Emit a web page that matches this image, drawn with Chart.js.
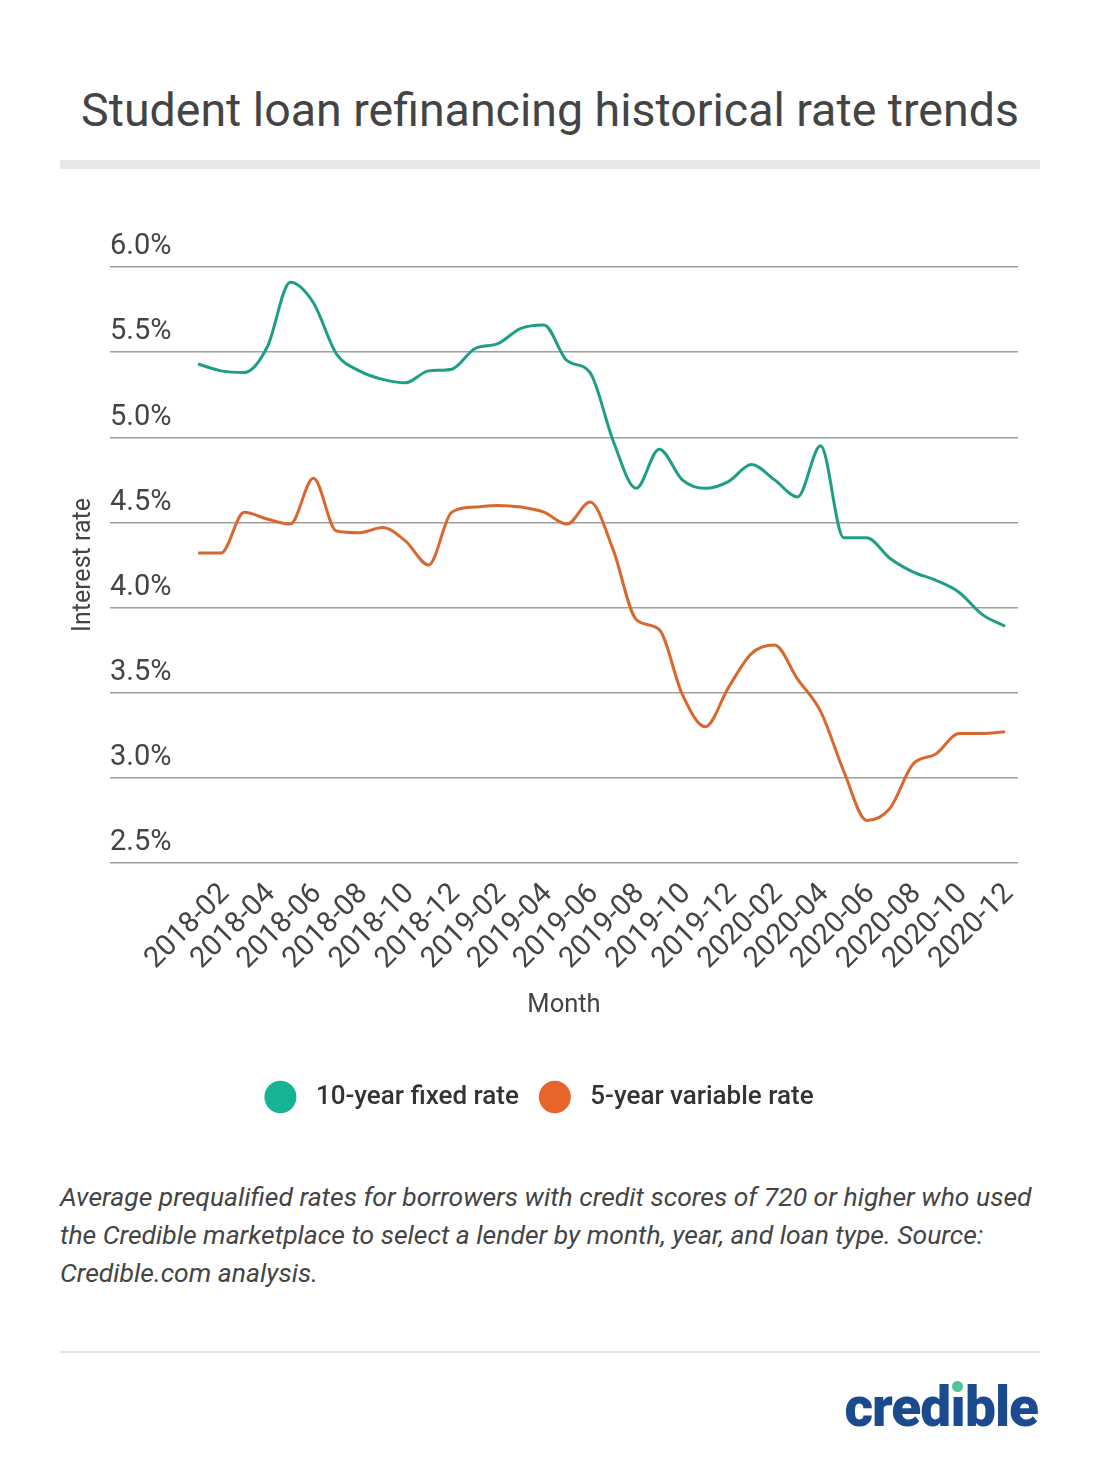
<!DOCTYPE html>
<html>
<head>
<meta charset="utf-8">
<script src="https://cdn.jsdelivr.net/npm/chart.js@4.4.1/dist/chart.umd.min.js"></script>
<style>
    html, body { margin: 0; padding: 0; background: #fff; }
    body { width: 1100px; height: 1460px; position: relative; font-family: Roboto, "Noto Sans", sans-serif; color: #444; overflow: hidden; }
    .title { position: absolute; top: 80px; left: 0; width: 1100px; text-align: center; font-size: 46.5px; font-weight: 400; margin: 0; color: #444; line-height: 60px; }
    .title-bar { position: absolute; top: 160px; left: 60px; width: 980px; height: 9px; background: #e8e8e8; }
    .chart-wrap { position: absolute; top: 190px; left: 0; width: 1100px; height: 950px; }
    .note { position: absolute; top: 1178px; left: 60px; width: 1000px; margin: 0; font-size: 26.5px; font-style: italic; line-height: 38px; color: #444; }
    .rule { position: absolute; top: 1351px; left: 60px; width: 980px; height: 2px; background: #e2e2e2; }
    .logo { position: absolute; top: 1372px; right: 62px; font-family: Roboto, sans-serif; font-weight: 900; font-size: 55px; color: #1c4a8e; letter-spacing: -1px; line-height: 70px; }
    .logo .dot { position: relative; }
    .logo .dot::after { content: ''; position: absolute; left: 50%; top: 6px; width: 11px; height: 11px; margin-left: -5.5px; border-radius: 50%; background: #4fc39b; }
</style>
</head>
<body>
<h1 class="title">Student loan refinancing historical rate trends</h1>
<div class="title-bar"></div>
<div class="chart-wrap"><canvas id="rateChart"></canvas></div>
<p class="note">Average prequalified rates for borrowers with credit scores of 720 or higher who used the Credible marketplace to select a lender by month, year, and loan type. Source: Credible.com analysis.</p>
<div class="rule"></div>
<div class="logo">cred<span class="dot">ı</span>ble</div>

<script>
// Monthly average rates, Jan 2018 - Dec 2020
var months = [
    '2018-01', '2018-02', '2018-03', '2018-04', '2018-05', '2018-06',
    '2018-07', '2018-08', '2018-09', '2018-10', '2018-11', '2018-12',
    '2019-01', '2019-02', '2019-03', '2019-04', '2019-05', '2019-06',
    '2019-07', '2019-08', '2019-09', '2019-10', '2019-11', '2019-12',
    '2020-01', '2020-02', '2020-03', '2020-04', '2020-05', '2020-06',
    '2020-07', '2020-08', '2020-09', '2020-10', '2020-11', '2020-12'
];

var fixedRate = [
    5.43, 5.39, 5.38, 5.53, 5.91, 5.79, 5.49, 5.39, 5.34, 5.32, 5.39, 5.40,
    5.52, 5.55, 5.64, 5.66, 5.45, 5.38, 4.98, 4.70, 4.93, 4.75, 4.70, 4.74,
    4.84, 4.75, 4.65, 4.95, 4.41, 4.41, 4.29, 4.21, 4.16, 4.09, 3.96, 3.89
];

var variableRate = [
    4.32, 4.32, 4.56, 4.52, 4.49, 4.76, 4.45, 4.44, 4.47, 4.39, 4.25, 4.56,
    4.59, 4.60, 4.59, 4.56, 4.49, 4.62, 4.34, 3.93, 3.87, 3.49, 3.30, 3.53,
    3.73, 3.78, 3.58, 3.39, 3.04, 2.75, 2.82, 3.08, 3.14, 3.26, 3.26, 3.27
];

var seriesNames = ['10-year fixed rate', '5-year variable rate'];
var lineColors = ['#1f9e87', '#d8682f'];
var dotColors = ['#16b394', '#e8642c'];

// only every other month gets a label
var labelledMonths = [];
for (var m = 1; m < months.length; m += 2) {
    labelledMonths.push(m);
}

(function() {
    'use strict';

    function toPoints(values) {
        var pts = [];
        for (var i = 0; i < values.length; i++) {
            pts.push({ x: i, y: values[i] });
        }
        return pts;
    }

    function makeDataset(idx, values) {
        return {
            label: seriesNames[idx],
            data: toPoints(values),
            borderColor: lineColors[idx],
            backgroundColor: dotColors[idx],
            borderWidth: 3,
            pointRadius: 0,
            cubicInterpolationMode: 'monotone',
            fill: false
        };
    }

    var canvas = document.getElementById('rateChart');
    var ctx = canvas.getContext('2d');

    new Chart(ctx, {
        type: 'line',
        data: {
            datasets: [makeDataset(0, fixedRate), makeDataset(1, variableRate)]
        },
        options: {
            responsive: true,
            maintainAspectRatio: false,
            animation: false,
            layout: {
                padding: { top: 77, left: 60, right: 82, bottom: 20 }
            },
            scales: {
                x: {
                    type: 'linear',
                    min: -3.82,
                    max: 35.56,
                    afterBuildTicks: function(scale) {
                        scale.ticks = labelledMonths.map(function(v) { return { value: v }; });
                    },
                    grid: { display: false },
                    border: { display: false },
                    ticks: {
                        autoSkip: false,
                        minRotation: 45,
                        maxRotation: 45,
                        padding: 6,
                        labelOffset: 4,
                        color: '#444',
                        font: { family: 'Roboto', size: 29 },
                        callback: function(value) { return months[value]; }
                    },
                    title: {
                        display: true,
                        text: 'Month',
                        color: '#444',
                        font: { family: 'Roboto', size: 25.5 },
                        padding: { top: 8, bottom: 43 }
                    }
                },
                y: {
                    min: 2.5,
                    max: 6.0,
                    grid: { color: '#9e9e9e', lineWidth: 1.5, drawTicks: false },
                    border: { display: false },
                    ticks: {
                        stepSize: 0.5,
                        mirror: true,
                        padding: 0,
                        labelOffset: -20,
                        color: '#444',
                        font: { family: 'Roboto', size: 29 },
                        callback: function(value) { return value.toFixed(1) + '%'; }
                    },
                    title: {
                        display: true,
                        text: 'Interest rate',
                        color: '#444',
                        font: { family: 'Roboto', size: 25 },
                        padding: { top: 9, bottom: 11 }
                    }
                }
            },
            plugins: {
                legend: {
                    position: 'bottom',
                    labels: {
                        usePointStyle: true,
                        pointStyle: 'circle',
                        boxHeight: 23,
                        pointStyleWidth: 32,
                        padding: 20,
                        color: '#333',
                        font: { family: 'Roboto', size: 26, weight: '500' },
                        generateLabels: function(chart) {
                            return chart.data.datasets.map(function(ds, i) {
                                return {
                                    text: ' ' + ds.label,
                                    fillStyle: dotColors[i],
                                    strokeStyle: dotColors[i],
                                    lineWidth: 0,
                                    fontColor: '#333',
                                    pointStyle: 'circle',
                                    hidden: false,
                                    datasetIndex: i
                                };
                            });
                        }
                    }
                },
                tooltip: { enabled: false }
            }
        }
    });
})();
</script>
</body>
</html>
